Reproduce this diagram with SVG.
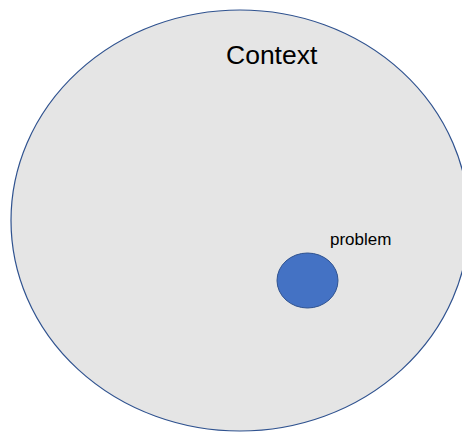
<svg xmlns="http://www.w3.org/2000/svg" width="462" height="432" viewBox="0 0 462 432">
<style>
text { font-family: "Liberation Sans", Arial, sans-serif; fill: #000; }
</style>
<rect width="462" height="432" fill="#fff"/>
<g id="context">
<ellipse cx="240" cy="220.5" rx="229" ry="210.5" fill="#e5e5e5" stroke="#2f528f" stroke-width="1.2"/>
<text x="226" y="64" font-size="26.5">Context</text>
</g>
<g id="problem">
<ellipse cx="307.5" cy="280.5" rx="30.5" ry="27.5" fill="#4472c4" stroke="#2f528f" stroke-width="1"/>
<text x="330" y="245" font-size="17">problem</text>
</g>
<g id="connectors"></g>
</svg>
